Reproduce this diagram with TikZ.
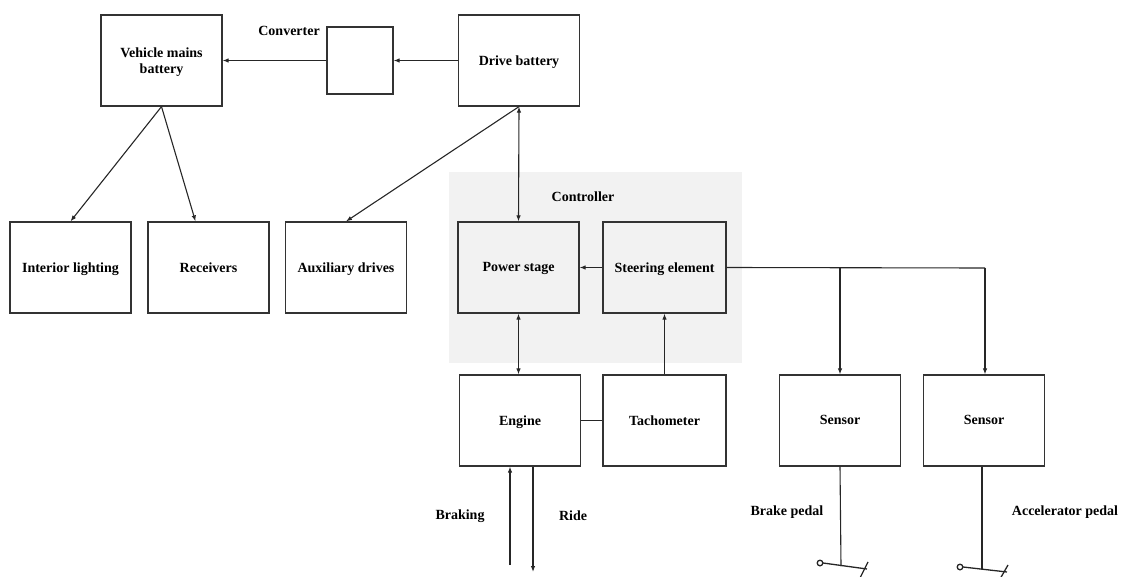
\documentclass[tikz,border=0pt]{standalone}
\usepackage{fontspec}
\setmainfont{Liberation Serif}
\usetikzlibrary{arrows.meta,calc}
\begin{document}
\begin{tikzpicture}[x=1pt,y=-1pt,
  box/.style={draw=black!80,line width=1.2pt,rectangle,minimum width=121pt,minimum height=91pt,align=center,font=\fontsize{14}{16}\selectfont\bfseries,inner sep=2pt,text depth=0.5pt},
  lbl/.style={font=\fontsize{14}{16}\selectfont\bfseries,inner sep=0pt},
  conn/.style={draw=black!85,line width=1.1pt},
  arr/.style={conn,-{Latex[length=6pt,width=4.5pt]}},
  darr/.style={conn,{Latex[length=6pt,width=4.5pt]}-{Latex[length=6pt,width=4.5pt]}}]
\useasboundingbox (0,0) rectangle (1126,577);
\fill[black!5] (449,172) rectangle (742,363);
\node[lbl] (ctl) at (583,197) {Controller};
% boxes
\node[box] (vmb) at (161.5,60.5) {Vehicle mains\\battery};
\node[box,minimum width=66pt,minimum height=67pt] (conv) at (360,60.5) {};
\node[lbl,anchor=east] (convl) at (320,31) {Converter};
\node[box] (db) at (519,60.5) {Drive battery};
\node[box] (il) at (70.5,267.5) {Interior lighting};
\node[box] (rec) at (208.5,267.5) {Receivers};
\node[box] (aux) at (346,267.5) {Auxiliary drives};
\node[box] (ps) at (518.5,267.5) {Power stage};
\node[box,minimum width=123pt] (se) at (664.5,267.5) {Steering element};
\node[box] (eng) at (520,420.5) {Engine};
\node[box,minimum width=123pt] (tach) at (664.5,420.5) {Tachometer};
\node[box] (s1) at (840,420.5) {Sensor};
\node[box] (s2) at (984,420.5) {Sensor};
% labels
\node[lbl] (brk) at (460,516) {Braking};
\node[lbl] (ride) at (573,516) {Ride};
\node[lbl] (bp) at (787,512) {Brake pedal};
\node[lbl] (ap) at (1065,512) {Accelerator pedal};
% connectors
\draw[arr] (db.west) -- (conv.east);
\draw[arr] (conv.west) -- (vmb.east);
\draw[arr] (vmb.south) -- (il.north);
\draw[arr] (vmb.south) -- ($(rec.north)+(-13,0)$);
\draw[arr] (db.south) -- (aux.north);
\draw[darr] (db.south) -- (ps.north);
\draw[arr] (se.west) -- (ps.east);
\draw[darr] (ps.south) -- ($(eng.north)+(-1.5,0)$);
\draw[arr] (tach.north) -- (se.south);
\draw[conn] (eng.east) -- (tach.west);
\coordinate (j1) at (840,268);
\coordinate (j2) at (985,268);
\draw[conn] (se.east) -- (j2);
\draw[arr] (j1) -- (s1.north);
\draw[arr] (j2) -- ($(s2.north)+(1,0)$);
\coordinate (bk0) at (510,565);
\coordinate (rd1) at (533,572);
\draw[arr] (bk0) -- ($(eng.south)+(-10,0)$);
\draw[arr] ($(eng.south)+(13,0)$) -- (rd1);
% pedals
\coordinate (p1) at (841,566);
\coordinate (p2) at (982,569);
\draw[conn] (s1.south) -- (p1);
\draw[conn] ($(s2.south)+(-2,0)$) -- (p2);
\draw[conn,line width=1.3pt] (820,563) circle (2.8);
\draw[conn,line width=1.3pt] (823,563) -- (867,569);
\draw[conn,line width=1.3pt] (860,578) -- (868,562);
\draw[conn,line width=1.3pt] (960,567) circle (2.8);
\draw[conn,line width=1.3pt] (963,567) -- (1007,572);
\draw[conn,line width=1.3pt] (1000,579) -- (1008,565);
\end{tikzpicture}
\end{document}
